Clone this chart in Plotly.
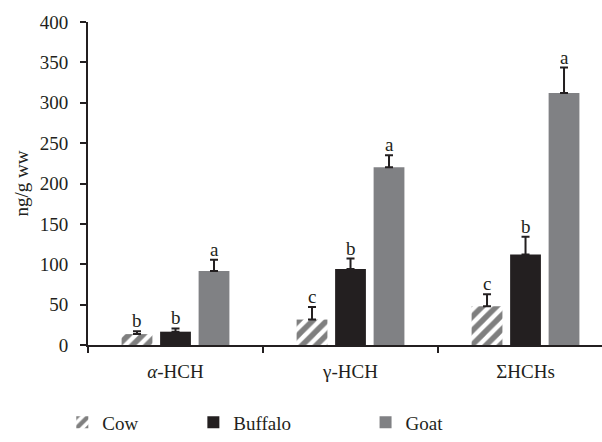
import plotly.graph_objects as go

categories = ["<i>α</i>-HCH", "γ-HCH", "ΣHCHs"]
series_names = ["Cow", "Buffalo", "Goat"]
cow = [13.5, 31.5, 48]
buffalo = [16.5, 94, 112]
goat = [91.5, 220, 312]
cow_err = [3.5, 15.5, 15]
buffalo_err = [4, 13, 22]
goat_err = [14, 15, 31.5]
cow_letters = ["b", "c", "c"]
buffalo_letters = ["b", "b", "b"]
goat_letters = ["a", "a", "a"]
y_ticks = [0, 50, 100, 150, 200, 250, 300, 350, 400]

FONT = "Liberation Serif"
BLACK = "#231f20"
GRAY = "#808184"
FS = 19

fig = go.Figure()

err_style = dict(type="data", symmetric=False, color=BLACK, thickness=2, width=4)

fig.add_trace(go.Bar(
    name=series_names[0], x=categories, y=cow, showlegend=True,
    marker=dict(color="white", line=dict(width=0),
                pattern=dict(shape="/", fgcolor="#000000", bgcolor="white", size=10, solidity=0.55)),
    error_y=dict(array=cow_err, arrayminus=[0] * 3, **err_style),
    legend="legend",
))
fig.add_trace(go.Bar(
    name=series_names[1], x=categories, y=buffalo, showlegend=True,
    marker=dict(color=BLACK, line=dict(width=0)),
    error_y=dict(array=buffalo_err, arrayminus=[0] * 3, **err_style),
    legend="legend2",
))
fig.add_trace(go.Bar(
    name=series_names[2], x=categories, y=goat, showlegend=True,
    marker=dict(color=GRAY, line=dict(width=0)),
    error_y=dict(array=goat_err, arrayminus=[0] * 3, **err_style),
    legend="legend3",
))

bargap = 0.34
slot = (1 - bargap) / 3
annotations = []
for vals, errs, letters, off in [
    (cow, cow_err, cow_letters, -slot),
    (buffalo, buffalo_err, buffalo_letters, 0),
    (goat, goat_err, goat_letters, slot),
]:
    for i, (v, e, t) in enumerate(zip(vals, errs, letters)):
        annotations.append(dict(
            x=i + off, y=v + e, xref="x", yref="y", text=t, showarrow=False,
            yanchor="bottom", yshift=-2, font=dict(family=FONT, size=FS, color=BLACK),
        ))

def legend_at(x):
    return dict(visible=True, orientation="h", yanchor="middle", y=-0.24, xanchor="left", x=x,
                font=dict(family=FONT, size=FS, color=BLACK), bgcolor="rgba(0,0,0,0)")

fig.update_layout(
    width=602, height=442,
    margin=dict(l=88, r=0, t=22, b=91),
    paper_bgcolor="white", plot_bgcolor="white",
    showlegend=True,
    barmode="group", bargap=bargap, bargroupgap=0.2,
    font=dict(family=FONT, size=FS, color=BLACK),
    annotations=annotations,
    legend=legend_at(-0.05),
    legend2=legend_at(0.205),
    legend3=legend_at(0.54),
    xaxis=dict(
        type="category", range=[-0.5, 2.437],
        showline=True, linecolor=BLACK, linewidth=2,
        ticks="outside", tickson="boundaries", ticklen=6, tickwidth=2, tickcolor=BLACK,
        ticklabelstandoff=8,
        showgrid=False, zeroline=False,
        tickfont=dict(family=FONT, size=FS, color=BLACK),
    ),
    yaxis=dict(
        range=[0, 400], tickvals=y_ticks,
        showline=True, linecolor=BLACK, linewidth=2,
        ticks="outside", ticklen=6, tickwidth=2, tickcolor=BLACK,
        ticklabelstandoff=8,
        showgrid=False, zeroline=False,
        tickfont=dict(family=FONT, size=FS, color=BLACK),
        title=dict(text="ng/g ww", font=dict(family=FONT, size=FS, color=BLACK), standoff=6),
    ),
)

fig.write_html("out.html", config={"displayModeBar": False},
               post_script="document.body.style.margin='0';")
